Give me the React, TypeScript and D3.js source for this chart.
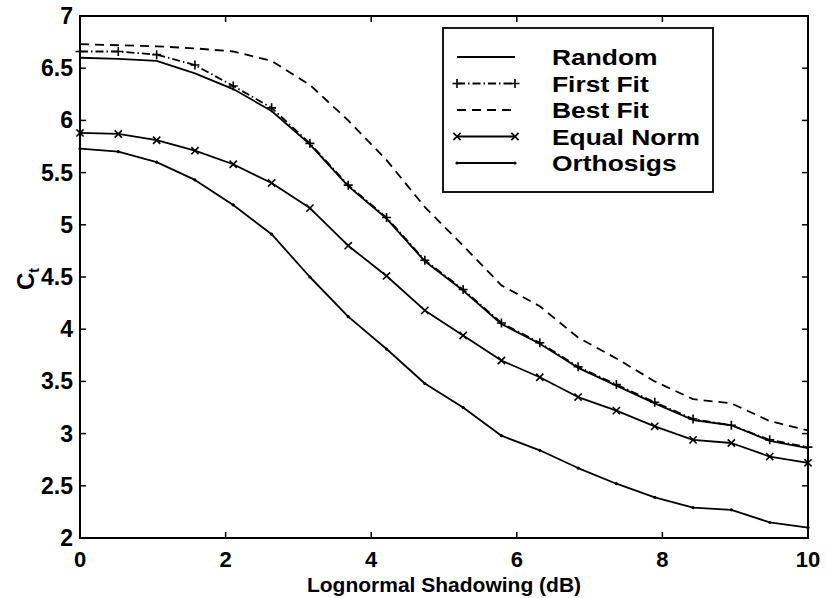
import React, { useEffect, useRef } from "react";
import * as d3 from "d3";

// shadowing values (dB) at which every curve was sampled
const shadowing = [0, 0.526, 1.053, 1.579, 2.105, 2.632, 3.158, 3.684, 4.211, 4.737, 5.263, 5.789, 6.316, 6.842, 7.368, 7.895, 8.421, 8.947, 9.474, 10];

const random = [6.6, 6.59, 6.57, 6.45, 6.3, 6.09, 5.77, 5.37, 5.06, 4.65, 4.37, 4.05, 3.86, 3.63, 3.46, 3.29, 3.13, 3.08, 2.93, 2.86];
const firstFit = [6.66, 6.66, 6.63, 6.53, 6.33, 6.12, 5.78, 5.38, 5.07, 4.66, 4.38, 4.06, 3.87, 3.64, 3.47, 3.3, 3.14, 3.08, 2.94, 2.87];
const bestFit = [6.73, 6.72, 6.71, 6.69, 6.66, 6.57, 6.34, 6.0, 5.62, 5.17, 4.8, 4.42, 4.22, 3.92, 3.72, 3.5, 3.33, 3.29, 3.12, 3.03];
const equalNorm = [5.88, 5.87, 5.81, 5.71, 5.58, 5.4, 5.16, 4.8, 4.51, 4.18, 3.94, 3.7, 3.54, 3.35, 3.22, 3.07, 2.94, 2.91, 2.78, 2.72];
const orthosigs = [5.73, 5.7, 5.6, 5.43, 5.19, 4.91, 4.5, 4.12, 3.81, 3.48, 3.25, 2.98, 2.84, 2.67, 2.52, 2.39, 2.29, 2.27, 2.15, 2.1];

const seriesNames = ["Random", "First Fit", "Best Fit", "Equal Norm", "Orthosigs"];
const xTicks = [0, 2, 4, 6, 8, 10];
const yTicks = [2, 2.5, 3, 3.5, 4, 4.5, 5, 5.5, 6, 6.5, 7];

const FONT = "'Liberation Sans', Arial, Helvetica, sans-serif";

const App = () => {
  const ref = useRef<SVGSVGElement>(null);

  useEffect(() => {
    const width = 826;
    const height = 598;
    const left = 80, right = 808, top = 16, bottom = 538;

    const svg = d3.select(ref.current)
      .attr("width", width)
      .attr("height", height)
      .style("background", "white");
    svg.selectAll("*").remove();

    const x = d3.scaleLinear().domain([0, 10]).range([left, right]);
    const y = d3.scaleLinear().domain([2, 7]).range([bottom, top]);

    const styles = [
      { values: random, dash: null, marker: "none" },
      { values: firstFit, dash: "8,3,1.5,3", marker: "plus" },
      { values: bestFit, dash: "9,6", marker: "none" },
      { values: equalNorm, dash: null, marker: "cross" },
      { values: orthosigs, dash: null, marker: "dot" },
    ];

    const line = d3.line<number>()
      .x((_, i) => x(shadowing[i]))
      .y((d) => y(d));

    const plot = svg.append("g");

    const drawMarker = (g: any, kind: string, cx: number, cy: number) => {
      const s = 4.5;
      if (kind === "plus") {
        g.append("path")
          .attr("d", `M${cx - s},${cy}H${cx + s}M${cx},${cy - s}V${cy + s}`)
          .attr("stroke", "#000").attr("stroke-width", 1.6);
      } else if (kind === "cross") {
        const c = 3.6;
        g.append("path")
          .attr("d", `M${cx - c},${cy - c}L${cx + c},${cy + c}M${cx - c},${cy + c}L${cx + c},${cy - c}`)
          .attr("stroke", "#000").attr("stroke-width", 1.6);
      } else if (kind === "dot") {
        g.append("circle").attr("cx", cx).attr("cy", cy).attr("r", 1.6).attr("fill", "#000");
      }
    };

    styles.forEach((st) => {
      const p = plot.append("path")
        .attr("d", line(st.values))
        .attr("fill", "none")
        .attr("stroke", "#000")
        .attr("stroke-width", 1.8)
        .attr("stroke-linejoin", "round");
      if (st.dash) p.attr("stroke-dasharray", st.dash);
      st.values.forEach((v, i) => drawMarker(plot, st.marker, x(shadowing[i]), y(v)));
    });

    // === frame and ticks ===
    const axes = svg.append("g");
    axes.append("rect")
      .attr("x", left).attr("y", top)
      .attr("width", right - left).attr("height", bottom - top)
      .attr("fill", "none").attr("stroke", "#000").attr("stroke-width", 2);

    const tl = 6;
    xTicks.forEach((t) => {
      const px = x(t);
      axes.append("line").attr("x1", px).attr("x2", px).attr("y1", bottom).attr("y2", bottom - tl)
        .attr("stroke", "#000").attr("stroke-width", 1.5);
      axes.append("line").attr("x1", px).attr("x2", px).attr("y1", top).attr("y2", top + tl)
        .attr("stroke", "#000").attr("stroke-width", 1.5);
      axes.append("text")
        .attr("x", px).attr("y", 567)
        .attr("text-anchor", "middle")
        .attr("font-family", FONT).attr("font-weight", "bold").attr("font-size", 22)
        .text(t);
    });
    yTicks.forEach((t) => {
      const py = y(t);
      axes.append("line").attr("x1", left).attr("x2", left + tl).attr("y1", py).attr("y2", py)
        .attr("stroke", "#000").attr("stroke-width", 1.5);
      axes.append("line").attr("x1", right).attr("x2", right - tl).attr("y1", py).attr("y2", py)
        .attr("stroke", "#000").attr("stroke-width", 1.5);
      axes.append("text")
        .attr("x", 73).attr("y", py + 8)
        .attr("text-anchor", "end")
        .attr("font-family", FONT).attr("font-weight", "bold").attr("font-size", 23)
        .text(t);
    });

    // axis titles
    svg.append("text")
      .attr("x", (left + right) / 2).attr("y", 592)
      .attr("text-anchor", "middle")
      .attr("font-family", FONT).attr("font-weight", "bold").attr("font-size", 21)
      .text("Lognormal Shadowing (dB)");

    const yl = svg.append("text")
      .attr("transform", "translate(34,290) rotate(-90)")
      .attr("font-family", FONT).attr("font-weight", "bold").attr("font-size", 24);
    yl.append("tspan").text("C");
    yl.append("tspan").attr("font-size", 14).attr("dy", 5).text("t");

    // === legend ===
    const lg = svg.append("g");
    lg.append("rect")
      .attr("x", 443).attr("y", 28).attr("width", 270).attr("height", 164)
      .attr("fill", "white").attr("stroke", "#000").attr("stroke-width", 1.8);
    seriesNames.forEach((name, i) => {
      const ly = 57 + i * 26.5;
      const st = styles[i];
      const l = lg.append("line")
        .attr("x1", 457).attr("x2", 515).attr("y1", ly).attr("y2", ly)
        .attr("stroke", "#000").attr("stroke-width", 1.8);
      if (st.dash) l.attr("stroke-dasharray", st.dash);
      drawMarker(lg, st.marker, 457, ly);
      drawMarker(lg, st.marker, 515, ly);
      lg.append("text")
        .attr("transform", `translate(552,${ly + 8}) scale(1.2,1)`)
        .attr("font-family", FONT).attr("font-weight", "bold").attr("font-size", 22)
        .text(name);
    });
  }, []);

  return (
    <div style={{ position: "absolute", left: 0, top: 0 }}>
      <svg ref={ref}></svg>
    </div>
  );
};

export default App;
